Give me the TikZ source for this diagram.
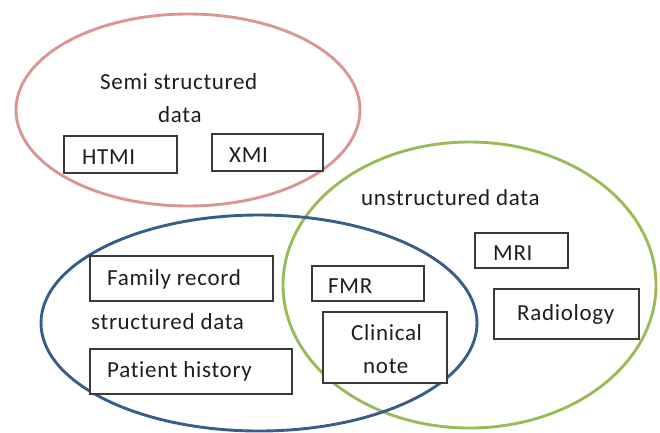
\documentclass[tikz,border=0pt]{standalone}
\usepackage{fontspec}
\setmainfont{Carlito}[LetterSpace=3, Ligatures={NoCommon}]
\definecolor{semiRed}{HTML}{D99694}
\definecolor{unstrGreen}{HTML}{9BBB59}
\definecolor{strBlue}{HTML}{385D8A}
\definecolor{boxLine}{HTML}{3A3A3A}
\definecolor{txt}{HTML}{1E1E1E}
\tikzset{
  setring/.style={line width=2.9pt},
  itembox/.style={draw=boxLine, line width=1.3pt, fill=white, rectangle, inner sep=0pt},
  lbl/.style={anchor=base west, inner sep=0pt, text=txt, font=\fontsize{23}{27}\selectfont},
}
\begin{document}
\begin{tikzpicture}[x=1pt, y=-1pt]
\useasboundingbox (0,0) rectangle (660,432);

% the three overlapping sets
\draw[setring, semiRed] (188,110) ellipse [x radius=172, y radius=96];
\draw[setring, unstrGreen] (469.5,285) ellipse [x radius=186.5, y radius=143];
\draw[setring, strBlue] (259,323) ellipse [x radius=218, y radius=108];

% item boxes
\node[itembox, minimum width=113pt, minimum height=37pt] (html) at (120.5,154.5) {};
\node[itembox, minimum width=111pt, minimum height=37pt] (xml)  at (267.5,152.5) {};
\node[itembox, minimum width=183pt, minimum height=45pt] (fam)  at (181.5,278.5) {};
\node[itembox, minimum width=202pt, minimum height=45pt] (hist) at (191,371.5) {};
\node[itembox, minimum width=112pt, minimum height=35pt] (emr)  at (368,283.5) {};
\node[itembox, minimum width=124pt, minimum height=71pt] (clin) at (385,347.5) {};
\node[itembox, minimum width=93pt,  minimum height=35pt] (mri)  at (521.5,250.5) {};
\node[itembox, minimum width=145pt, minimum height=50pt] (rad)  at (566.5,314) {};

% labels
\node[lbl] (semiA) at (100,89) {Semi structured};
\node[lbl] (semiB) at (158,122) {data};
\node[lbl] (htmlT) at (82,164) {HTMI};
\node[lbl] (xmlT)  at (229,162) {XMI};
\node[lbl] (unstr) at (361,205) {unstructured data};
\node[lbl] (mriT)  at (493,260) {MRI};
\node[lbl] (emrT)  at (328,293) {FMR};
\node[lbl] (radT)  at (517,320) {Radiology};
\node[lbl] (clinA) at (351,340) {Clinical};
\node[lbl] (clinB) at (363,373) {note};
\node[lbl] (famT)  at (107,285) {Family record};
\node[lbl] (strT)  at (91,329) {structured data};
\node[lbl] (histT) at (107,377) {Patient history};
\end{tikzpicture}
\end{document}
